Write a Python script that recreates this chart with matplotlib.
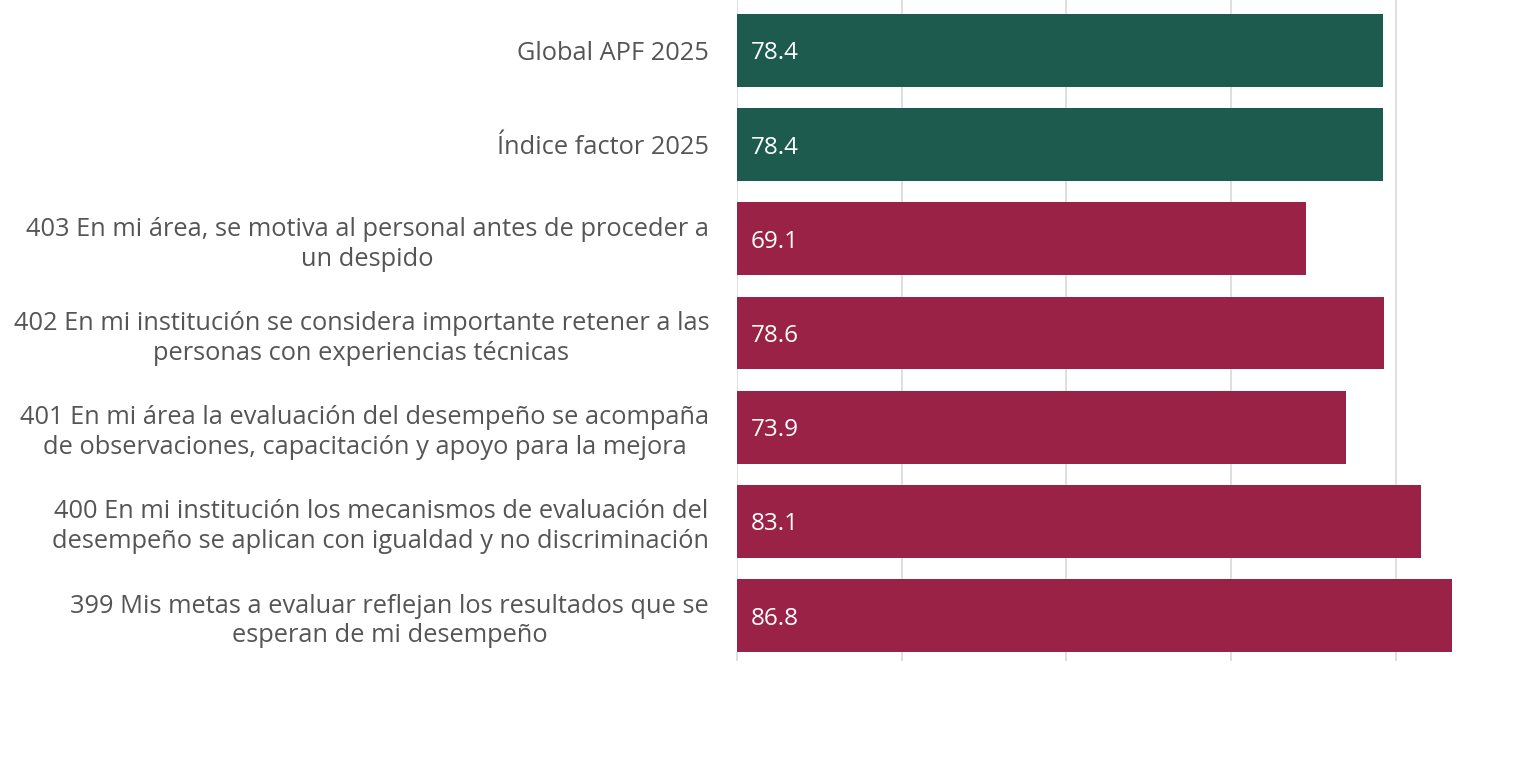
import matplotlib.pyplot as plt
import numpy as np

plt.rcParams['font.family'] = ['Open Sans', 'DejaVu Sans']

labels = [
    "Global APF 2025",
    "Índice factor 2025",
    "403 En mi área, se motiva al personal antes de proceder a\nun despido",
    "402 En mi institución se considera importante retener a las\npersonas con experiencias técnicas",
    "401 En mi área la evaluación del desempeño se acompaña\nde observaciones, capacitación y apoyo para la mejora",
    "400 En mi institución los mecanismos de evaluación del\ndesempeño se aplican con igualdad y no discriminación",
    "399 Mis metas a evaluar reflejan los resultados que se\nesperan de mi desempeño",
]
values = [78.4, 78.4, 69.1, 78.6, 73.9, 83.1, 86.8]
kinds = ["total", "total", "item", "item", "item", "item", "item"]

colors = {"total": "#1E5B4F", "item": "#9B2247"}

fig = plt.figure(figsize=(15.38, 7.72), dpi=100)
ax = fig.add_axes([737 / 1538, 120 / 772, (1503 - 737) / 1538, 652 / 772])

y = np.arange(len(values))
ax.barh(y, values, height=0.775, color=[colors[k] for k in kinds], zorder=2)

for yi, v in zip(y, values):
    ax.text(1.7, yi, f"{v:.1f}", color="white", fontsize=17.5,
            va="center_baseline", ha="left", zorder=3)

ax.set_xlim(0, 93)
ax.set_ylim(6 + 36.5 / 94.2, -50.5 / 94.2)
ax.set_xticks([0, 20, 40, 60, 80])
ax.set_xticklabels([])
ax.grid(axis="x", color="#d9d9d9", linewidth=1.2, zorder=0)
ax.tick_params(axis="x", length=6.5, color="#d9d9d9", width=1.2)
ax.set_yticks(y)
ax.set_yticklabels(labels, fontsize=18.3, color="#555555", multialignment="center",
                   linespacing=1.25, va="center_baseline")
ax.tick_params(axis="y", length=0, pad=20)
for s in ax.spines.values():
    s.set_visible(False)

fig.savefig("out.png", dpi=100)
